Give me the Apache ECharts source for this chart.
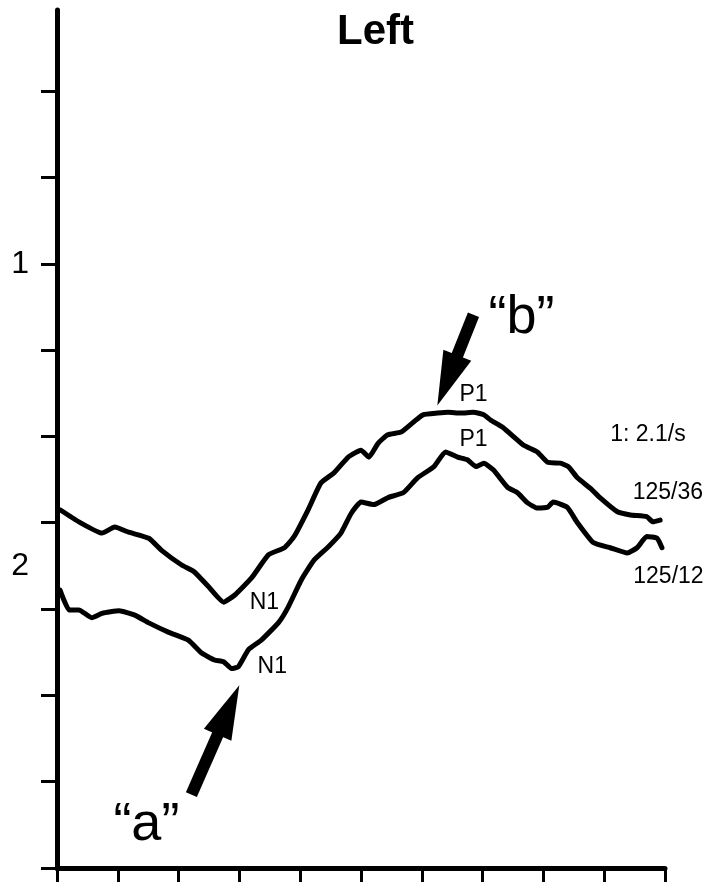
<!DOCTYPE html>
<html>
<head>
<meta charset="utf-8">
<title>Left</title>
<script src="https://cdn.jsdelivr.net/npm/echarts@6/dist/echarts.min.js"></script>
<style>
  html, body { margin: 0; padding: 0; background: #fff; }
  #main { width: 720px; height: 890px; }
</style>
</head>
<body>
<div id="main"></div>
<script>
'use strict';
/* Left: two evoked traces (125/36 on top, 125/12 below) */

// trace points, [x, y] in axis tick units
var trace36 = [
  [0.05, 4.15], [0.36, 4.01], [0.74, 3.88], [0.95, 3.95], [1.18, 3.89], [1.51, 3.82],
  [1.72, 3.68], [2.05, 3.51], [2.26, 3.43], [2.49, 3.26], [2.74, 3.08], [2.92, 3.16],
  [3.20, 3.36], [3.48, 3.63], [3.74, 3.71], [3.90, 3.84], [4.13, 4.15], [4.34, 4.46],
  [4.56, 4.58], [4.79, 4.76], [5.00, 4.84], [5.13, 4.76], [5.28, 4.92], [5.44, 5.02],
  [5.66, 5.05], [5.87, 5.17], [6.02, 5.25], [6.26, 5.27], [6.43, 5.28], [6.64, 5.27],
  [6.85, 5.28], [7.02, 5.25], [7.13, 5.19], [7.34, 5.10], [7.67, 4.90], [7.90, 4.82],
  [8.07, 4.70], [8.28, 4.69], [8.41, 4.65], [8.56, 4.52], [8.77, 4.40], [8.93, 4.29],
  [9.21, 4.13], [9.43, 4.09], [9.70, 4.07], [9.80, 4.01], [9.92, 4.03]
];
var trace12 = [
  [0.05, 3.22], [0.20, 2.99], [0.36, 2.99], [0.57, 2.90], [0.74, 2.95], [1.02, 2.98],
  [1.28, 2.93], [1.51, 2.84], [1.84, 2.73], [2.16, 2.64], [2.38, 2.49], [2.59, 2.41],
  [2.74, 2.39], [2.87, 2.31], [2.98, 2.33], [3.15, 2.53], [3.36, 2.64], [3.64, 2.84],
  [3.80, 3.02], [4.02, 3.34], [4.23, 3.57], [4.46, 3.72], [4.67, 3.88], [4.84, 4.11],
  [5.00, 4.24], [5.21, 4.21], [5.44, 4.29], [5.70, 4.35], [5.93, 4.52], [6.20, 4.65],
  [6.39, 4.82], [6.59, 4.76], [6.75, 4.73], [6.89, 4.65], [7.02, 4.69], [7.18, 4.61],
  [7.41, 4.41], [7.57, 4.35], [7.74, 4.23], [7.90, 4.17], [8.07, 4.18], [8.16, 4.24],
  [8.39, 4.18], [8.56, 4.00], [8.82, 3.77], [9.10, 3.71], [9.38, 3.65], [9.54, 3.71],
  [9.70, 3.84], [9.87, 3.82], [9.95, 3.71]
];

// y axis: ticks and the two trace numbers
var yTickValues = [0, 1, 2, 3, 4, 5, 6, 7, 8, 9];
var yLabelValues = [7, 3.5];
var yLabelTexts = ['1', '2'];

// small text notes, centred on their coords
var noteTexts = ['N1', 'N1', 'P1', 'P1', '1: 2.1/s'];
var noteCoords = [[3.41, 3.07], [3.54, 2.33], [6.85, 5.48], [6.85, 4.96], [9.72, 5.02]];
// trace names, left edge at their coords
var endTexts = ['125/36', '125/12'];
var endCoords = [[9.46, 4.35], [9.47, 3.37]];

// big letters and their arrows (tail -> head)
var letterTexts = ['\u201ca\u201d', '\u201cb\u201d'];
var letterCoords = [[1.47, 0.50], [7.64, 6.37]];
var arrowTails = [[2.21, 0.85], [6.85, 6.41]];
var arrowHeads = [[2.82, 1.83], [6.42, 5.65]];

var FONT = "'Liberation Sans', Arial, Helvetica, sans-serif";

var chart = echarts.init(document.getElementById('main'));

var notes = noteTexts.map(function(t, i) {
  return { name: t, coord: noteCoords[i], label: { fontSize: 23 } };
}).concat(endTexts.map(function(t, i) {
  return { name: t, coord: endCoords[i], label: { fontSize: 23, position: 'right', distance: 0 } };
})).concat(letterTexts.map(function(t, i) {
  return { name: t, coord: letterCoords[i], label: { fontSize: 54 } };
}));

var arrows = arrowTails.map(function(tail, i) {
  return [
    { coord: tail, symbol: 'none' },
    { coord: arrowHeads[i], symbol: 'triangle', symbolSize: [30, 54] }
  ];
});

var option = {
  animation: false,
  backgroundColor: '#fff',
  title: {
    text: 'Left',
    left: 332,
    top: 6,
    textStyle: { fontFamily: FONT, fontSize: 42, fontWeight: 'bold', color: '#000' }
  },
  grid: { left: 57, right: 55, top: 10, bottom: 22 },
  xAxis: {
    type: 'value',
    min: 0,
    max: 10,
    interval: 1,
    axisLine: { show: true, lineStyle: { color: '#000', width: 5 } },
    axisTick: { show: true, inside: false, length: 14, lineStyle: { color: '#000', width: 3 } },
    axisLabel: { show: false },
    splitLine: { show: false }
  },
  yAxis: {
    type: 'value',
    min: 0,
    max: 9.94,
    interval: 1,
    axisLine: { show: true, onZero: false, lineStyle: { color: '#000', width: 5 } },
    axisTick: { show: true, inside: false, length: 16, customValues: yTickValues, lineStyle: { color: '#000', width: 3 } },
    axisLabel: {
      show: true,
      customValues: yLabelValues,
      margin: 28,
      color: '#000',
      fontFamily: FONT,
      fontSize: 32,
      formatter: function(v) {
        var i = yLabelValues.indexOf(v);
        return i >= 0 ? yLabelTexts[i] : '';
      }
    },
    splitLine: { show: false }
  },
  series: [{
    name: '125/36',
    type: 'line',
    data: trace36,
    showSymbol: false,
    smooth: 0.15,
    clip: false,
    lineStyle: { color: '#000', width: 5, join: 'round', cap: 'round' },
    silent: true,
    markPoint: {
      symbol: 'rect',
      symbolSize: 1,
      itemStyle: { color: 'transparent' },
      silent: true,
      label: { show: true, position: 'inside', formatter: '{b}', color: '#000', fontFamily: FONT },
      data: notes
    },
    markLine: {
      silent: true,
      symbol: ['none', 'triangle'],
      label: { show: false },
      lineStyle: { color: '#000', width: 12, type: 'solid' },
      itemStyle: { color: '#000' },
      data: arrows
    }
  }, {
    name: '125/12',
    type: 'line',
    data: trace12,
    showSymbol: false,
    smooth: 0.15,
    clip: false,
    lineStyle: { color: '#000', width: 5, join: 'round', cap: 'round' },
    silent: true
  }]
};

chart.setOption(option);
</script>
</body>
</html>
